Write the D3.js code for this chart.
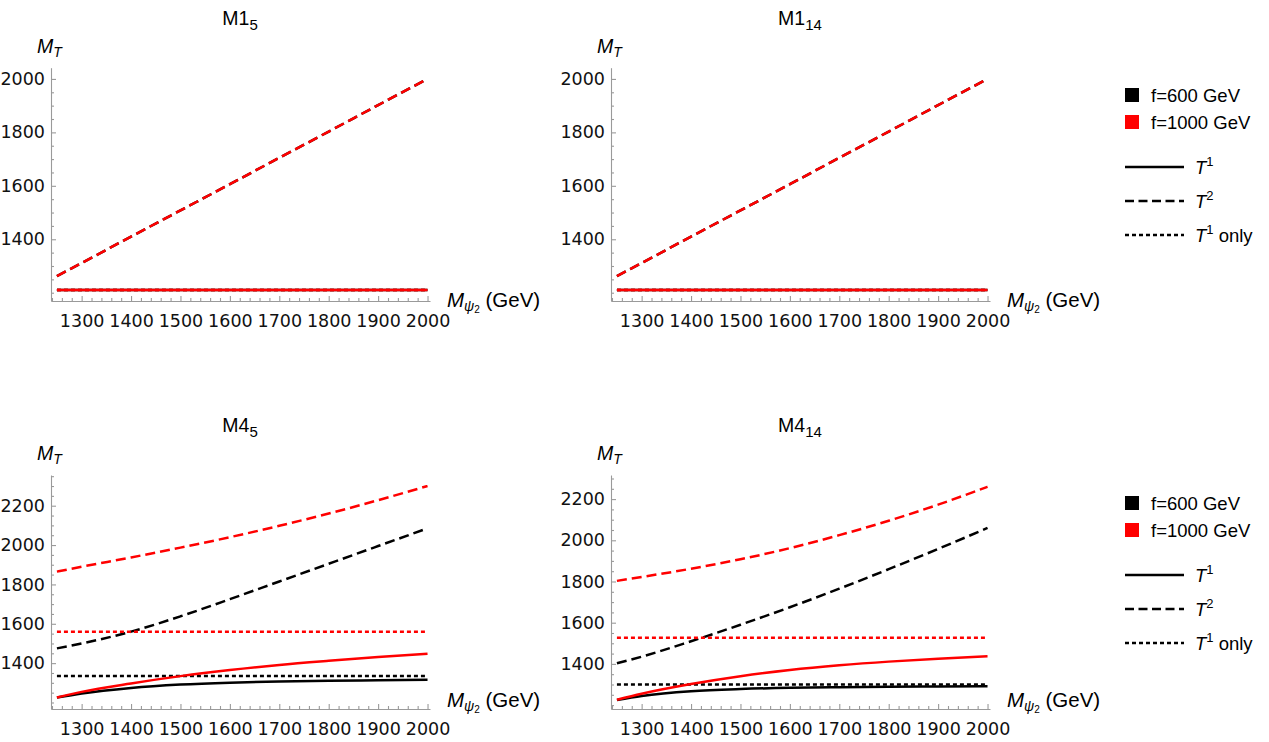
<!DOCTYPE html>
<html>
<head>
<meta charset="utf-8">
<script src="https://cdn.jsdelivr.net/npm/d3@7"></script>
<style>
body { margin: 0; background: #fff; }
svg { display: block; background: #fff; }
</style>
</head>
<body>
<svg id="chart" width="1269" height="742"></svg>
<script>
"use strict";



//
// Data
//

var mPsi2 = [1250, 1300, 1400, 1500, 1600, 1700, 1800, 1900, 2000];

var xTickLabels = [1300, 1400, 1500, 1600, 1700, 1800, 1900, 2000];
var yTickLabelsTop = [1400, 1600, 1800, 2000];
var yTickLabelsBottom = [1400, 1600, 1800, 2000, 2200];

// M1_5
var m15_T1_f600 = [1210, 1210, 1210, 1210, 1210, 1210, 1210, 1210, 1210];
var m15_T1_f1000 = [1210, 1210, 1210, 1210, 1210, 1210, 1210, 1210, 1210];
var m15_T2_f600 = [1262, 1311, 1410, 1508, 1606, 1705, 1803, 1902, 2000];
var m15_T2_f1000 = [1262, 1311, 1410, 1508, 1606, 1705, 1803, 1902, 2000];
var m15_T1only_f600 = [1210, 1210, 1210, 1210, 1210, 1210, 1210, 1210, 1210];
var m15_T1only_f1000 = [1210, 1210, 1210, 1210, 1210, 1210, 1210, 1210, 1210];

// M1_14
var m114_T1_f600 = [1210, 1210, 1210, 1210, 1210, 1210, 1210, 1210, 1210];
var m114_T1_f1000 = [1210, 1210, 1210, 1210, 1210, 1210, 1210, 1210, 1210];
var m114_T2_f600 = [1262, 1311, 1410, 1508, 1606, 1705, 1803, 1902, 2000];
var m114_T2_f1000 = [1262, 1311, 1410, 1508, 1606, 1705, 1803, 1902, 2000];
var m114_T1only_f600 = [1210, 1210, 1210, 1210, 1210, 1210, 1210, 1210, 1210];
var m114_T1only_f1000 = [1210, 1210, 1210, 1210, 1210, 1210, 1210, 1210, 1210];

// M4_5
var m45_T1_f600 = [1225, 1246, 1274, 1291, 1301, 1307, 1311, 1313, 1315];
var m45_T1_f1000 = [1225, 1254, 1297, 1334, 1365, 1391, 1412, 1431, 1448];
var m45_T2_f600 = [1475, 1500, 1560, 1638, 1725, 1815, 1905, 1995, 2085];
var m45_T2_f1000 = [1865, 1890, 1937, 1987, 2040, 2098, 2160, 2228, 2300];
var m45_T1only_f600 = [1335, 1335, 1335, 1335, 1335, 1335, 1335, 1335, 1335];
var m45_T1only_f1000 = [1560, 1560, 1560, 1560, 1560, 1560, 1560, 1560, 1560];

// M4_14
var m414_T1_f600 = [1225, 1244, 1267, 1278, 1284, 1287, 1289, 1290, 1291];
var m414_T1_f1000 = [1226, 1255, 1302, 1340, 1370, 1393, 1411, 1425, 1437];
var m414_T2_f600 = [1403, 1435, 1510, 1590, 1675, 1765, 1860, 1958, 2060];
var m414_T2_f1000 = [1803, 1822, 1862, 1908, 1962, 2025, 2095, 2173, 2260];
var m414_T1only_f600 = [1300, 1300, 1300, 1300, 1300, 1300, 1300, 1300, 1300];
var m414_T1only_f1000 = [1527, 1527, 1527, 1527, 1527, 1527, 1527, 1527, 1527];



//
// Styles
//

var RED = "#ff0000",
    BLACK = "#000000",
    AXIS_GRAY = "#9a9a9a",
    SANS = "'Liberation Sans', Arial, sans-serif",
    DASH = { solid: null, dashed: "10,5", dotted: "4,3" };

var svg = d3.select("#chart");



//
// One plot panel
//

function drawPanel (cfg) {

    var x = d3.scaleLinear().domain([1238, 2005]).range([cfg.left, cfg.left + 379]);
    var y = d3.scaleLinear().domain(cfg.yDomain).range([cfg.bottom, cfg.top]);

    var g = svg.append("g");

    // minor ticks
    var xMinor = d3.range(1240, 2001, 20).filter(function (v) { return xTickLabels.indexOf(v) < 0; });
    var yMinor = d3.range(1200, 2401, 50).filter(function (v) {
        return v >= cfg.yDomain[0] && v <= cfg.yDomain[1] && cfg.yTicks.indexOf(v) < 0;
    });

    g.append("g")
        .attr("transform", "translate(0," + cfg.bottom + ")")
        .call(d3.axisBottom(x).tickValues(xMinor).tickSizeInner(-3).tickSizeOuter(0).tickFormat(""))
        .call(function (s) { s.select(".domain").remove(); });

    g.append("g")
        .attr("transform", "translate(" + cfg.left + ",0)")
        .call(d3.axisLeft(y).tickValues(yMinor).tickSizeInner(-3).tickSizeOuter(0).tickFormat(""))
        .call(function (s) { s.select(".domain").remove(); });

    // major ticks + labels
    g.append("g")
        .attr("transform", "translate(0," + cfg.bottom + ")")
        .call(d3.axisBottom(x).tickValues(xTickLabels).tickSizeInner(-5).tickSizeOuter(0)
            .tickPadding(14).tickFormat(d3.format("d")));

    g.append("g")
        .attr("transform", "translate(" + cfg.left + ",0)")
        .call(d3.axisLeft(y).tickValues(cfg.yTicks).tickSizeInner(-5).tickSizeOuter(0)
            .tickPadding(6).tickFormat(d3.format("d")));

    g.selectAll(".domain, .tick line").attr("stroke", AXIS_GRAY).attr("stroke-width", 1.1);
    g.selectAll(".tick text")
        .attr("fill", "#111")
        .attr("font-family", "'DejaVu Sans', sans-serif")
        .attr("font-size", 17.5);
    g.selectAll("g").attr("font-family", null).attr("font-size", null);

    // curves
    var line = d3.line()
        .x(function (d) { return x(d[0]); })
        .y(function (d) { return y(d[1]); })
        .curve(d3.curveMonotoneX);

    cfg.series.forEach(function (s) {
        g.append("path")
            .datum(mPsi2.map(function (m, i) { return [m, s.values[i]]; }))
            .attr("d", line)
            .attr("fill", "none")
            .attr("stroke", s.color)
            .attr("stroke-width", 2.5)
            .attr("stroke-dasharray", DASH[s.style]);
    });

    // title
    var title = g.append("text")
        .attr("x", cfg.left + 189)
        .attr("y", cfg.titleY)
        .attr("text-anchor", "middle")
        .attr("font-family", SANS)
        .attr("font-size", 19.5);
    title.append("tspan").text(cfg.title);
    title.append("tspan").attr("dy", 5).attr("font-size", 15).text(cfg.sub);

    // y label
    var yl = g.append("text")
        .attr("x", cfg.left - 14)
        .attr("y", cfg.top - 15)
        .attr("font-family", SANS)
        .attr("font-style", "italic")
        .attr("font-size", 19.5);
    yl.append("tspan").text("M");
    yl.append("tspan").attr("dy", 4).attr("font-size", 14).text("T");

    // x label
    var xl = g.append("text")
        .attr("x", cfg.left + 396)
        .attr("y", cfg.xLabelY)
        .attr("font-family", SANS)
        .attr("font-size", 20.5);
    xl.append("tspan").attr("font-style", "italic").text("M");
    xl.append("tspan").attr("font-style", "italic").attr("font-size", 14).attr("dy", 4).text("\u03C8");
    xl.append("tspan").attr("font-size", 10).attr("dy", 2).text("2");
    xl.append("tspan").attr("dy", -6).text(" (GeV)");
}



//
// Legend
//

function drawLegend (y0) {

    var g = svg.append("g").attr("font-family", SANS).attr("font-size", 18.5);

    var swatches = [
        { color: BLACK, label: "f=600 GeV" },
        { color: RED, label: "f=1000 GeV" }
    ];

    swatches.forEach(function (s, i) {
        g.append("rect")
            .attr("x", 1125).attr("y", y0 + i * 27)
            .attr("width", 14).attr("height", 14)
            .attr("fill", s.color);
        g.append("text")
            .attr("x", 1151).attr("y", y0 + 13.5 + i * 27)
            .text(s.label);
    });

    var styles = [
        { style: "solid", sup: "1", rest: "" },
        { style: "dashed", sup: "2", rest: "" },
        { style: "dotted", sup: "1", rest: " only" }
    ];

    styles.forEach(function (s, i) {
        var ly = y0 + 79 + i * 34;
        g.append("line")
            .attr("x1", 1125).attr("x2", 1184)
            .attr("y1", ly).attr("y2", ly)
            .attr("stroke", BLACK)
            .attr("stroke-width", 2.5)
            .attr("stroke-dasharray", s.style === "dashed" ? "9,4.5" : DASH[s.style]);
        var t = g.append("text").attr("x", 1195).attr("y", ly + 7);
        t.append("tspan").attr("font-style", "italic").text("T");
        t.append("tspan").attr("font-size", 13).attr("dy", -8).text(s.sup);
        t.append("tspan").attr("dy", 8).text(s.rest);
    });
}



//
// Build everything
//

function seriesOf (t1a, t1b, t2a, t2b, oa, ob) {
    return [
        { values: t1a, color: BLACK, style: "solid" },
        { values: t2a, color: BLACK, style: "dashed" },
        { values: oa, color: BLACK, style: "dotted" },
        { values: t1b, color: RED, style: "solid" },
        { values: t2b, color: RED, style: "dashed" },
        { values: ob, color: RED, style: "dotted" }
    ];
}

drawPanel({
    title: "M1", sub: "5", left: 51, top: 67.7, bottom: 301, titleY: 25, xLabelY: 307,
    yDomain: [1169, 2042], yTicks: yTickLabelsTop,
    series: seriesOf(m15_T1_f600, m15_T1_f1000, m15_T2_f600, m15_T2_f1000, m15_T1only_f600, m15_T1only_f1000)
});

drawPanel({
    title: "M1", sub: "14", left: 611, top: 67.7, bottom: 301, titleY: 25, xLabelY: 307,
    yDomain: [1169, 2042], yTicks: yTickLabelsTop,
    series: seriesOf(m114_T1_f600, m114_T1_f1000, m114_T2_f600, m114_T2_f1000, m114_T1only_f600, m114_T1only_f1000)
});

drawPanel({
    title: "M4", sub: "5", left: 51, top: 475, bottom: 709, titleY: 432, xLabelY: 707,
    yDomain: [1167, 2356], yTicks: yTickLabelsBottom,
    series: seriesOf(m45_T1_f600, m45_T1_f1000, m45_T2_f600, m45_T2_f1000, m45_T1only_f600, m45_T1only_f1000)
});

drawPanel({
    title: "M4", sub: "14", left: 611, top: 475, bottom: 709, titleY: 432, xLabelY: 707,
    yDomain: [1181, 2317], yTicks: yTickLabelsBottom,
    series: seriesOf(m414_T1_f600, m414_T1_f1000, m414_T2_f600, m414_T2_f1000, m414_T1only_f600, m414_T1only_f1000)
});

drawLegend(88);
drawLegend(496);

</script>
</body>
</html>
